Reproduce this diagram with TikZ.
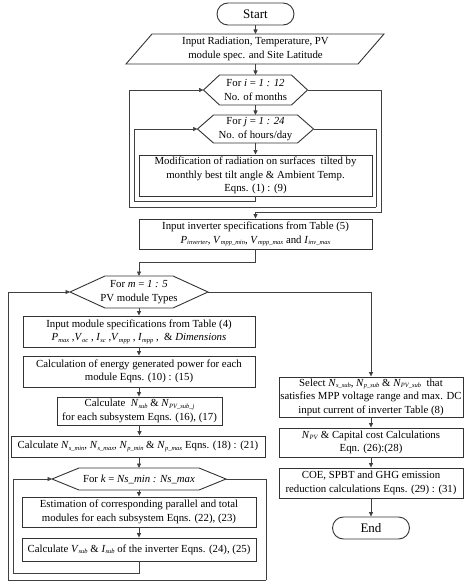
\documentclass[tikz,border=0pt]{standalone}
\usepackage{fontspec}
\setmainfont{Liberation Serif}
\usetikzlibrary{arrows.meta}
\newcommand{\vr}[2]{\textit{#1}\raisebox{-0.3ex}{\fontsize{6.5}{7}\selectfont\textit{#2}}}
\newcommand{\hexshape}[7]{%
  \coordinate (#1-w) at ({#2-#4},#3);
  \coordinate (#1-e) at ({#2+#4},#3);
  \coordinate (#1-n) at (#2,{#3-#5});
  \coordinate (#1-s) at (#2,{#3+#5});
  \draw[shp] (#1-w) -- ++(#6,-#5) -- ++({2*#4-2*#6},0) -- ++(#6,#5) -- ++(-#6,#5) -- ++({2*#6-2*#4},0) -- cycle;
  \node[lbl] (#1) at (#2,#3) {#7};
}
\begin{document}
\begin{tikzpicture}[x=1pt,y=-1pt,
  line/.style={draw=black!75, line width=0.7pt},
  arr/.style={line, -{Triangle[length=4.5pt,width=4pt]}},
  box/.style={draw=black!80, line width=0.9pt, rectangle, inner sep=0pt, align=center, font=\fontsize{10.8}{13.6}\selectfont},
  lbl/.style={inner sep=0pt, align=center, font=\fontsize{10.8}{13.6}\selectfont},
  shp/.style={draw=black!80, line width=0.9pt},
  term/.style={box, rounded corners=11pt, minimum width=77pt, minimum height=22pt, font=\fontsize{13}{15}\selectfont}
]
\useasboundingbox (0,0) rectangle (474,588);

% top column
\node[term] (start) at (255.5,14) {Start};
\draw[shp] (152,34) -- (384,34) -- (358,64) -- (126,64) -- cycle;
\node[lbl] (inp) at (255.5,49) {Input Radiation, Temperature, PV\\module spec. and Site Latitude};
\coordinate (inp-n) at (255.5,34);
\coordinate (inp-s) at (255.5,64);

\hexshape{ihex}{255.5}{90}{52}{15}{16}{For \textit{i} = \textit{1 : 12}\\No. of months}
\hexshape{jhex}{255.5}{129}{58}{14}{16}{For \textit{j} = \textit{1 : 24}\\No. of hours/day}

\node[box, minimum width=233pt, minimum height=41pt] (mod) at (255.5,175.5)
 {Modification of radiation on surfaces\ \ tilted by\\monthly best tilt angle \& Ambient Temp.\\Eqns. (1) : (9)};
\node[box, minimum width=233pt, minimum height=30pt] (inv) at (255.5,234)
 {Input inverter specifications from Table (5)\\\vr{P}{inverter}, \vr{V}{mpp\_min}, \vr{V}{mpp\_max} and \vr{I}{inv\_max}};

% left column
\hexshape{mhex}{139}{292}{69}{16}{35}{For \textit{m} = \textit{1 : 5}\\PV module Types}
\node[box, minimum width=232pt, minimum height=31pt] (modl) at (139,331.5)
 {Input module specifications from Table (4)\\\vr{P}{max} ,\vr{V}{oc} , \vr{I}{sc} ,\vr{V}{mpp} , \vr{I}{mpp} ,\ \ \& \textit{Dimensions}};
\node[box, minimum width=232pt, minimum height=31pt] (ener) at (139,371.5)
 {Calculation of energy generated power for each\\module Eqns. (10) : (15)};
\node[box, minimum width=165pt, minimum height=28pt] (nsub) at (139.5,411)
 {Calculate\ \ \vr{N}{sub} \& \vr{N}{PV\_sub\_j}\\for each subsystem Eqns. (16), (17)};
\node[box, minimum width=254pt, minimum height=21pt] (nsmin) at (138,446.5)
 {Calculate \vr{N}{s\_min}, \vr{N}{s\_max}, \vr{N}{p\_min} \& \vr{N}{p\_max} Eqns. (18) : (21)};
\hexshape{khex}{139}{479}{87}{11}{27}{For \textit{k} = \textit{Ns\_min : Ns\_max}}
\node[box, minimum width=234pt, minimum height=30pt] (est) at (139,512)
 {Estimation of corresponding parallel and total\\modules for each subsystem Eqns. (22), (23)};
\node[box, minimum width=234pt, minimum height=23pt] (vsub) at (139,549.5)
 {Calculate \vr{V}{sub} \& \vr{I}{sub} of the inverter Eqns. (24), (25)};

% right column
\node[box, minimum width=184pt, minimum height=40pt] (sel) at (371,397)
 {Select \vr{N}{s\_sub}, \vr{N}{p\_sub} \& \vr{N}{PV\_sub}\ \ that\\satisfies MPP voltage range and max. DC\\input current of inverter Table (8)};
\node[box, minimum width=184pt, minimum height=29pt] (npv) at (371,442.5)
 {\vr{N}{PV} \& Capital cost Calculations\\Eqn. (26):(28)};
\node[box, minimum width=184pt, minimum height=30pt] (coe) at (371,483)
 {COE, SPBT and GHG emission\\reduction calculations Eqns. (29) : (31)};
\node[term] (end) at (371,528) {End};

% loop corner coordinates
\coordinate (jret) at (134,201);
\coordinate (iloop) at (376,207);
\coordinate (iret) at (129,207);
\coordinate (iexit) at (381,212);
\coordinate (kret) at (13,573);
\coordinate (mloop) at (266,580);
\coordinate (mret) at (8,580);

% connectors
\draw[arr] (start) -- (inp-n);
\draw[arr] (inp-s) -- (ihex-n);
\draw[arr] (ihex-s) -- (jhex-n);
\draw[arr] (jhex-s) -- (mod);
\draw[arr] (mod.south) |- (jret) |- (jhex-w);
\draw[line] (jhex-e) -| (iloop);
\draw[arr] (iloop) -- (iret) |- (ihex-w);
\draw[arr] (ihex-e) -| (iexit) -| (inv.north);
\draw[arr] (inv.south) -- ++(0,13) -| (mhex-n);

\draw[arr] (mhex-s) -- (modl);
\draw[arr] (modl) -- (ener);
\draw[arr] (ener.south) -- (ener.south |- nsub.north);
\draw[arr] (nsub.south) -- (nsub.south |- nsmin.north);
\draw[arr] (nsmin.south -| khex-n) -- (khex-n);
\draw[arr] (khex-s) -- (est);
\draw[arr] (est) -- (vsub);
\draw[arr] (vsub.south) |- (kret) |- (khex-w);
\draw[line] (khex-e) -| (mloop);
\draw[arr] (mloop) -- (mret) |- (mhex-w);
\draw[arr] (mhex-e) -| (sel.north);

\draw[arr] (sel) -- (npv);
\draw[arr] (npv) -- (coe);
\draw[arr] (coe) -- (end);
\end{tikzpicture}
\end{document}
